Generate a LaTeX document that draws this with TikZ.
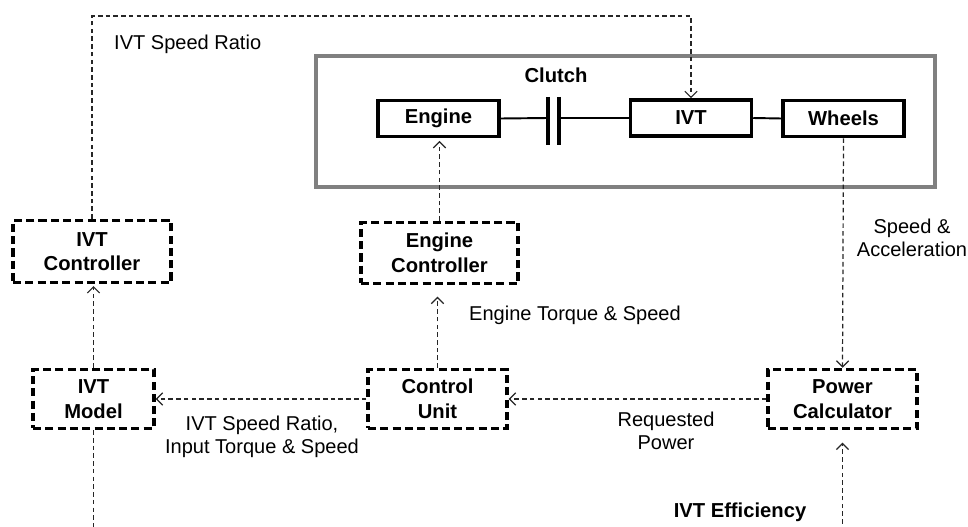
\documentclass[tikz,border=0pt]{standalone}
\usepackage{fontspec}
\setmainfont{Liberation Sans}
\usetikzlibrary{arrows.meta}

\begin{document}
\begin{tikzpicture}[x=0.02cm,y=-0.02cm,
  font=\fontsize{11.4}{13.2}\selectfont,
  >={Straight Barb[length=3.5pt,width=7pt]},
  part/.style={draw,line width=2pt,minimum width=2.42cm,minimum height=0.72cm,
    inner sep=0pt,font=\fontsize{11.5}{14}\selectfont\bfseries},
  ctrl/.style={draw,line width=2pt,dash pattern=on 4.6pt off 2.4pt,
    minimum height=1.18cm,inner sep=0pt,align=center,
    font=\fontsize{11.5}{14}\selectfont\bfseries},
  link/.style={line width=0.7pt,black!85,dash pattern=on 2.6pt off 1.8pt},
  shaft/.style={line width=1.1pt},
  plate/.style={line width=2pt}]

  \useasboundingbox (0,0) rectangle (968,527);

  %% Drive line inside the grey frame
  \draw[line width=2pt,black!50] (316,56) rectangle (935,187);
  \node[part] (engine) at (438.5,118.5) {Engine};
  \node[part] (ivt) at (691,118) {IVT};
  \node[part] (wheels) at (843.5,118.5) {Wheels};
  \coordinate (plateA) at (548,118);
  \coordinate (plateB) at (559,118);
  \draw[plate] (548,97) -- (548,145);
  \draw[plate] (559,97) -- (559,145);
  \draw[shaft] (engine.east) -- (plateA);
  \draw[shaft] (plateB) -- (ivt.west);
  \draw[shaft] (ivt.east) -- (wheels.west);
  \node[font=\fontsize{11.5}{14}\selectfont\bfseries] (clutch) at (556,75) {Clutch};

  %% Controller blocks
  \node[ctrl,minimum width=3.16cm,minimum height=1.24cm] (ivtctrl) at (92,251.5) {IVT\\Controller};
  \node[ctrl,minimum width=3.14cm,minimum height=1.22cm] (engctrl) at (439.5,253) {Engine\\Controller};
  \node[ctrl,minimum width=2.42cm] (ivtmodel) at (93.5,399) {IVT\\Model};
  \node[ctrl,minimum width=2.78cm] (ctrlunit) at (437.5,399) {Control\\Unit};
  \node[ctrl,minimum width=2.98cm] (powcalc) at (842.5,399) {Power\\Calculator};

  %% Signal connectors
  \coordinate (topline) at (0,16);
  \coordinate (bottomline) at (0,527.6);
  \draw[link,->] (ivtctrl.north) |- (topline -| ivt.north) -- (ivt.north);
  \draw[link,->,shorten >=1.5pt] (engctrl.north) -- (engctrl.north |- engine.south);
  \draw[link,->,shorten >=6.5pt] (ctrlunit.north) -- (ctrlunit.north |- engctrl.south);
  \draw[link,->] (wheels.south) -- (powcalc.north);
  \draw[link,->] (powcalc.west) -- (ctrlunit.east);
  \draw[link,->] (ctrlunit.west) -- (ivtmodel.east);
  \draw[link,->,shorten >=1pt] (ivtmodel.north) -- (ivtmodel.north |- ivtctrl.south);
  \draw[link,->,shorten >=7pt] (ivtmodel.south) |- (bottomline -| powcalc.south) -- (powcalc.south);

  %% Signal labels
  \node[anchor=west] (ratiolbl) at (108,44) {IVT Speed Ratio};
  \node[align=center] (speedlbl) at (912,238) {Speed \&\\Acceleration};
  \node[anchor=west] (torquelbl) at (463,315) {Engine Torque \& Speed};
  \node[align=center] (powerlbl) at (666,431) {Requested\\Power};
  \node[align=center] (inputlbl) at (262,437) {IVT Speed Ratio,\\Input Torque \& Speed};
  \node[font=\fontsize{11.5}{14}\selectfont\bfseries] (efflbl) at (740,512) {IVT Efficiency};

\end{tikzpicture}
\end{document}
